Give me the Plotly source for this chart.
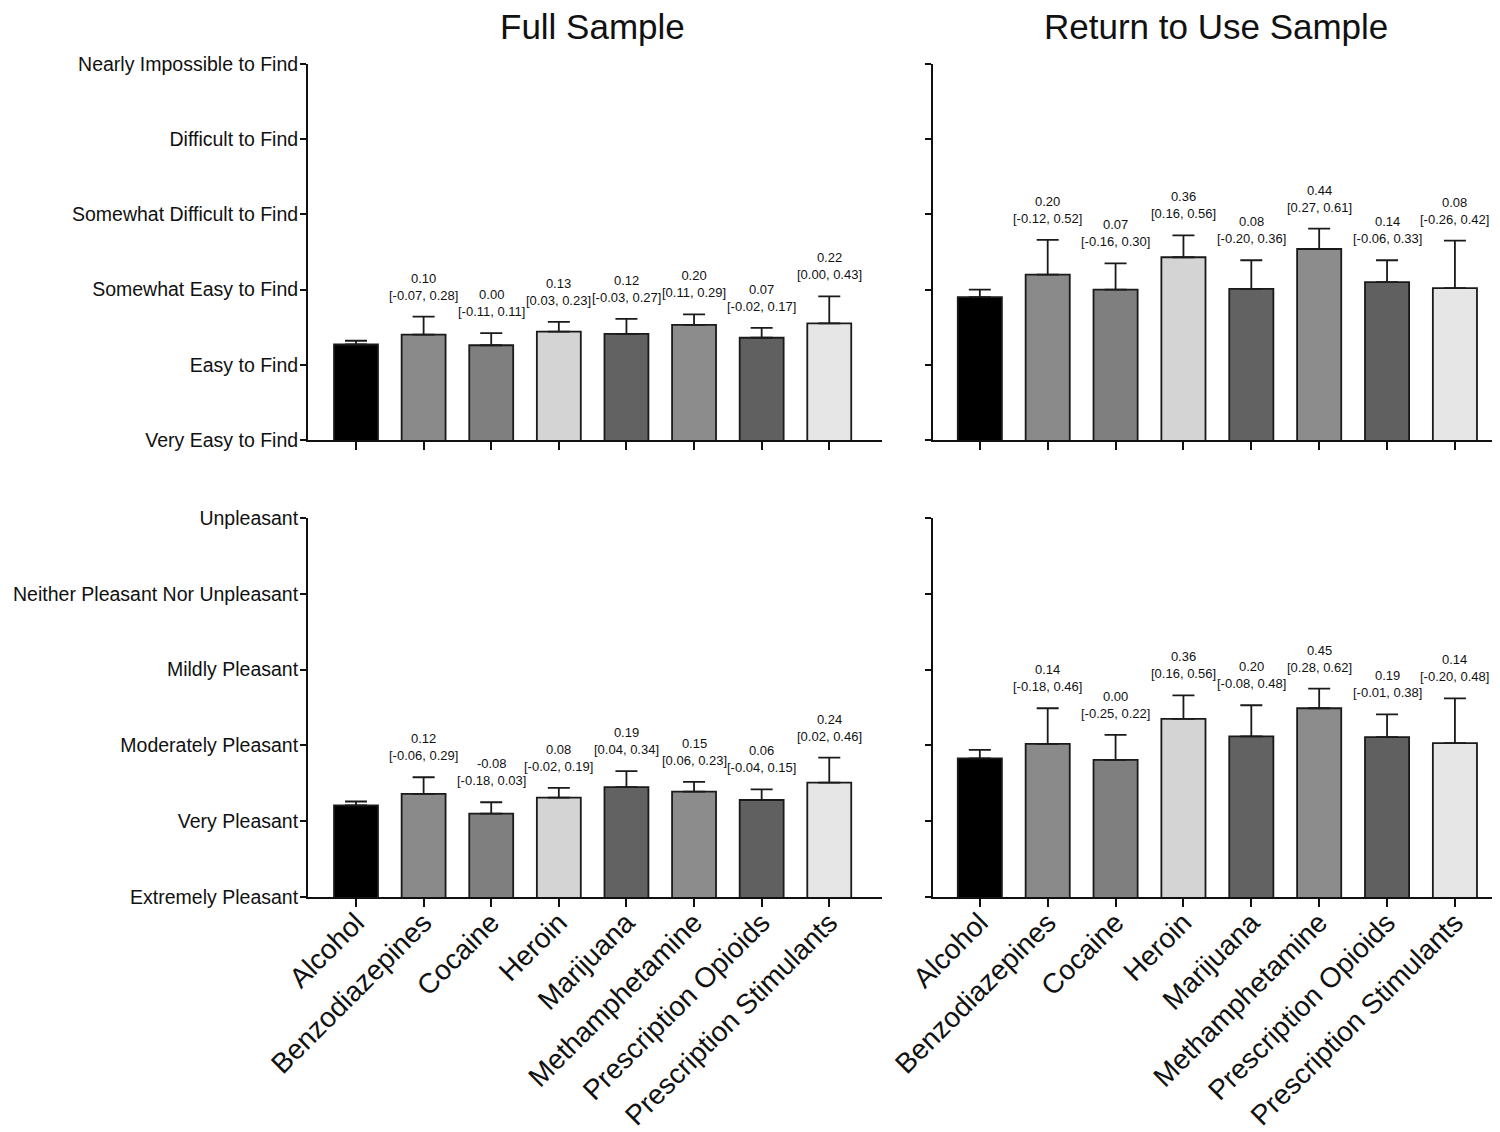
import plotly.graph_objects as go
from plotly.subplots import make_subplots

drugs = ['Alcohol', 'Benzodiazepines', 'Cocaine', 'Heroin', 'Marijuana',
         'Methamphetamine', 'Prescription Opioids', 'Prescription Stimulants']
bar_colors = ['#000000', '#8a8a8a', '#7f7f7f', '#d4d4d4', '#626262',
              '#8c8c8c', '#606060', '#e6e6e6']

avail_labels = ['Very Easy to Find', 'Easy to Find', 'Somewhat Easy to Find',
                'Somewhat Difficult to Find', 'Difficult to Find', 'Nearly Impossible to Find']
pleas_labels = ['Extremely Pleasant', 'Very Pleasant', 'Moderately Pleasant',
                'Mildly Pleasant', 'Neither Pleasant Nor Unpleasant', 'Unpleasant']

# mean ratings (1-6 scale) and upper SEM
avail_full = [2.27, 2.40, 2.26, 2.44, 2.41, 2.53, 2.36, 2.55]
avail_full_err = [0.05, 0.24, 0.16, 0.13, 0.20, 0.14, 0.13, 0.36]
avail_rtu = [2.90, 3.20, 3.00, 3.43, 3.01, 3.54, 3.10, 3.02]
avail_rtu_err = [0.10, 0.46, 0.35, 0.29, 0.38, 0.27, 0.29, 0.63]
pleas_full = [2.21, 2.36, 2.10, 2.31, 2.45, 2.39, 2.28, 2.51]
pleas_full_err = [0.05, 0.22, 0.15, 0.13, 0.21, 0.13, 0.14, 0.33]
pleas_rtu = [2.83, 3.02, 2.81, 3.35, 3.12, 3.49, 3.11, 3.03]
pleas_rtu_err = [0.11, 0.47, 0.33, 0.31, 0.41, 0.26, 0.30, 0.59]

# differences vs alcohol with 95% CI
avail_full_d = [None, 0.10, 0.00, 0.13, 0.12, 0.20, 0.07, 0.22]
avail_full_lo = [None, -0.07, -0.11, 0.03, -0.03, 0.11, -0.02, 0.00]
avail_full_hi = [None, 0.28, 0.11, 0.23, 0.27, 0.29, 0.17, 0.43]
avail_rtu_d = [None, 0.20, 0.07, 0.36, 0.08, 0.44, 0.14, 0.08]
avail_rtu_lo = [None, -0.12, -0.16, 0.16, -0.20, 0.27, -0.06, -0.26]
avail_rtu_hi = [None, 0.52, 0.30, 0.56, 0.36, 0.61, 0.33, 0.42]
pleas_full_d = [None, 0.12, -0.08, 0.08, 0.19, 0.15, 0.06, 0.24]
pleas_full_lo = [None, -0.06, -0.18, -0.02, 0.04, 0.06, -0.04, 0.02]
pleas_full_hi = [None, 0.29, 0.03, 0.19, 0.34, 0.23, 0.15, 0.46]
pleas_rtu_d = [None, 0.14, 0.00, 0.36, 0.20, 0.45, 0.19, 0.14]
pleas_rtu_lo = [None, -0.18, -0.25, 0.16, -0.08, 0.28, -0.01, -0.20]
pleas_rtu_hi = [None, 0.46, 0.22, 0.56, 0.48, 0.62, 0.38, 0.48]

FONT = 'Liberation Sans, Arial, sans-serif'

panels = [
    (1, 1, avail_full, avail_full_err, avail_full_d, avail_full_lo, avail_full_hi),
    (1, 2, avail_rtu, avail_rtu_err, avail_rtu_d, avail_rtu_lo, avail_rtu_hi),
    (2, 1, pleas_full, pleas_full_err, pleas_full_d, pleas_full_lo, pleas_full_hi),
    (2, 2, pleas_rtu, pleas_rtu_err, pleas_rtu_d, pleas_rtu_lo, pleas_rtu_hi),
]

fig = make_subplots(rows=2, cols=2)

for row, col, vals, errs, d, lo, hi in panels:
    fig.add_trace(go.Bar(
        x=drugs, y=vals,
        marker=dict(color=bar_colors, line=dict(color='#1a1a1a', width=1.8)),
        error_y=dict(type='data', symmetric=False, array=errs,
                     arrayminus=[0] * len(errs), color='#1a1a1a',
                     thickness=1.8, width=11),
        showlegend=False,
    ), row=row, col=col)
    for i, name in enumerate(drugs):
        if d[i] is None:
            continue
        fig.add_annotation(
            x=name, y=vals[i] + errs[i],
            text=f'{d[i]:.2f}<br>[{lo[i]:.2f}, {hi[i]:.2f}]',
            showarrow=False, yanchor='bottom', yshift=12,
            font=dict(family=FONT, size=13, color='#111111'),
            row=row, col=col)

# the page body adds an 8px offset, so the figure is 1492x1124 and
# positions below are taken from the reference minus that offset
OFF = 8
W, H = 1500 - OFF, 1132 - OFF


def px(x0, x1):
    return [(x0 - OFF) / W, (x1 - OFF) / W]


def py(y_top, y_bot):
    return [1 - (y_bot - OFF) / H, 1 - (y_top - OFF) / H]


left_dom = px(308, 882)
right_dom = px(933, 1497)
top_dom = py(64, 440)
bot_dom = py(518, 897)

axis_common = dict(showline=True, linecolor='#111111', linewidth=2,
                   ticks='outside', tickcolor='#111111', tickwidth=2,
                   showgrid=False, zeroline=False, automargin=False,
                   tickfont=dict(family=FONT, size=19.5, color='#111111'))

fig.update_xaxes(**axis_common)
fig.update_yaxes(**axis_common)
fig.update_xaxes(ticklen=8, tickangle=-45, tickfont=dict(size=28), ticklabelstandoff=-12)
fig.update_yaxes(range=[1, 6], tickvals=[1, 2, 3, 4, 5, 6], ticklen=6, ticklabelstandoff=-2)

fig.update_xaxes(domain=left_dom, range=[-0.71, 7.78], showticklabels=False, row=1, col=1)
fig.update_xaxes(domain=right_dom, range=[-0.69, 7.62], showticklabels=False, row=1, col=2)
fig.update_xaxes(domain=left_dom, range=[-0.71, 7.78], row=2, col=1)
fig.update_xaxes(domain=right_dom, range=[-0.69, 7.62], row=2, col=2)

fig.update_yaxes(domain=top_dom, ticktext=avail_labels, row=1, col=1)
fig.update_yaxes(domain=top_dom, showticklabels=False, row=1, col=2)
fig.update_yaxes(domain=bot_dom, ticktext=pleas_labels, row=2, col=1)
fig.update_yaxes(domain=bot_dom, showticklabels=False, row=2, col=2)

title_y = 1 - (26 - OFF) / H
fig.add_annotation(text='Full Sample', x=(592 - OFF) / W, y=title_y, xref='paper', yref='paper',
                   yanchor='middle', xanchor='center',
                   showarrow=False, font=dict(family=FONT, size=35, color='#111111'))
fig.add_annotation(text='Return to Use Sample', x=(1216 - OFF) / W, y=title_y, xref='paper', yref='paper',
                   yanchor='middle', xanchor='center',
                   showarrow=False, font=dict(family=FONT, size=35, color='#111111'))

fig.update_layout(
    width=W, height=H,
    margin=dict(l=0, r=0, t=0, b=0),
    paper_bgcolor='white', plot_bgcolor='white',
    bargap=0.35,
    font=dict(family=FONT, color='#111111'),
)

fig.write_html('out.html')
